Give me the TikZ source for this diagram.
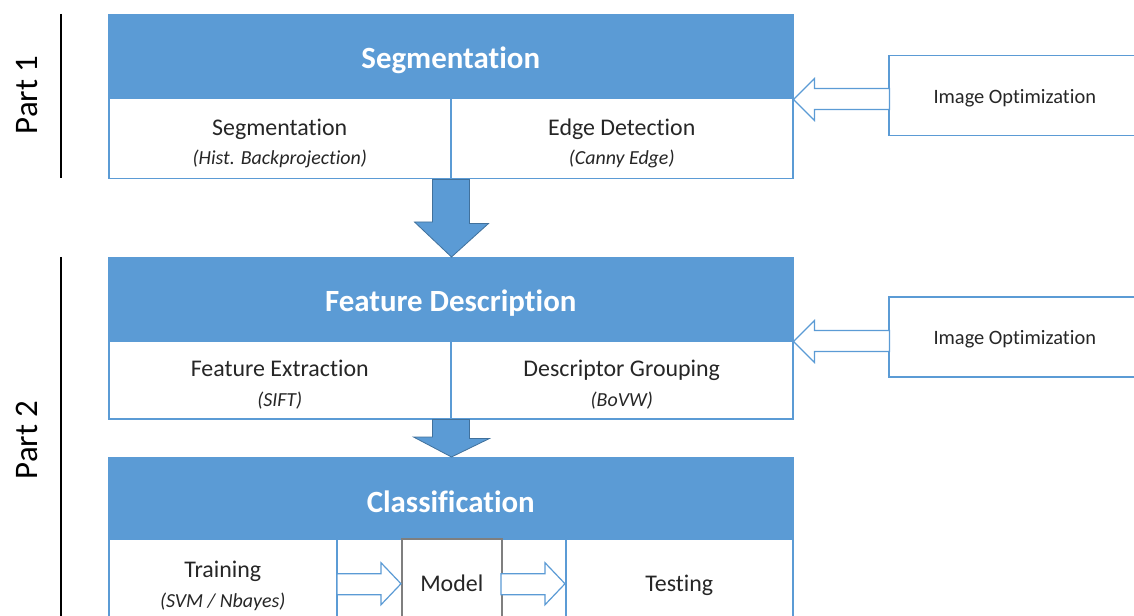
\documentclass[tikz,border=0pt]{standalone}
\usepackage{fontspec}
\setmainfont{Carlito}[Ligatures=NoCommon]
\usetikzlibrary{calc}

\definecolor{boxblue}{HTML}{5B9BD5}
\definecolor{arrowedge}{HTML}{41719C}
\definecolor{modelgray}{HTML}{7F7F7F}
\definecolor{inktext}{HTML}{262626}

\tikzset{
  head/.style={draw=boxblue, fill=boxblue, line width=1.5bp, text=white,
    font=\fontsize{31}{36}\selectfont\bfseries, minimum width=684bp,
    text height=29bp, inner sep=0pt, anchor=north west},
  cell/.style={draw=boxblue, line width=1.5bp, fill=white, text=inktext,
    align=center, font=\fontsize{24}{30}\selectfont, inner sep=0pt,
    anchor=north west},
  optbox/.style={draw=boxblue, line width=1.5bp, text=inktext,
    font=\fontsize{20.5}{24}\selectfont, minimum width=252bp,
    minimum height=80bp, text height=19.5bp, inner sep=0pt, anchor=north west},
  modelbox/.style={draw=modelgray, line width=1.5bp, fill=white, text=inktext,
    font=\fontsize{24}{30}\selectfont, minimum width=100bp,
    minimum height=90bp, inner sep=0pt, anchor=north west},
  parttext/.style={rotate=90, font=\fontsize{33}{40}\selectfont, text=black},
  downarrow/.style={fill=boxblue, draw=arrowedge, line width=0.8bp},
  hollowarrow/.style={fill=white, draw=boxblue, line width=1.2bp},
}
\newcommand{\subline}[1]{{\fontsize{20}{30}\selectfont\itshape #1}}
\newcommand{\topgap}[1]{\rule{0pt}{#1}}

\begin{document}
\begin{tikzpicture}[x=1bp, y=-1bp]
\useasboundingbox (0,0) rectangle (1134,616);
\clip (0,0) rectangle (1134,616);

% part markers
\node[parttext] (part1) at (27,95) {Part 1};
\node[parttext] (part2) at (27,440) {Part 2};
\coordinate (p1top) at (61,14);
\coordinate (p1bot) at (61,178);
\coordinate (p2top) at (61,257);
\coordinate (p2bot) at (61,630);
\draw[line width=1.2bp] (p1top) -- (p1bot);
\draw[line width=1.2bp] (p2top) -- (p2bot);

% segmentation block
\node[head, minimum height=84bp] (seghead) at (108,14) {Segmentation};
\node[cell, minimum width=342bp, minimum height=80bp] (segA) at (108,98)
  {\topgap{26bp}Segmentation\\\subline{(Hist. Backprojection)}};
\node[cell, minimum width=342bp, minimum height=80bp] (segB) at (450,98)
  {\topgap{26bp}Edge Detection\\\subline{(Canny Edge)}};

% feature description block
\node[head, minimum height=83bp] (fdhead) at (108,257) {Feature Description};
\node[cell, minimum width=342bp, minimum height=78bp] (fdA) at (108,340)
  {\topgap{26bp}Feature Extraction\\\subline{(SIFT)}};
\node[cell, minimum width=342bp, minimum height=78bp] (fdB) at (450,340)
  {\topgap{26bp}Descriptor Grouping\\\subline{(BoVW)}};

% classification block
\node[head, minimum height=81bp] (clhead) at (108,457) {Classification};
\node[cell, minimum width=228bp, minimum height=90bp] (clA) at (108,538)
  {\topgap{21bp}Training\\\subline{(SVM / Nbayes)}};
\node[cell, minimum width=229bp, minimum height=90bp] (clM) at (336,538) {};
\node[cell, minimum width=227bp, minimum height=90bp, text height=19.5bp]
  (clB) at (565,538) {Testing};
\node[modelbox] (model) at (401,538) {Model};

% image optimization inputs
\node[optbox] (opt1) at (888,55) {Image Optimization};
\node[optbox] (opt2) at (888,296) {Image Optimization};

% block arrows between stages
\draw[downarrow] ($(segA.south east)+(-19,0)$) -- ++(37,0) -- ++(0,44) -- ++(19,0)
  -- (segA.south east |- fdhead.north) -- ++(-37,-35) -- ++(18,0) -- cycle;
\draw[downarrow] ($(fdA.south east)+(-19,0)$) -- ++(37,0) -- ++(0,19) -- ++(20,0)
  -- (fdA.south east |- clhead.north) -- ++(-38,-20) -- ++(19,0) -- cycle;

% hollow arrows
\draw[hollowarrow] (seghead.south east) -- ++(21,-21) -- ++(0,10) -- ++(75,0)
  -- ++(0,21) -- ++(-75,0) -- ++(0,11) -- cycle;
\draw[hollowarrow] (fdhead.south east) -- ++(21,-21) -- ++(0,10) -- ++(75,0)
  -- ++(0,21) -- ++(-75,0) -- ++(0,11) -- cycle;
\draw[hollowarrow] (model.west) -- ++(-20,-21) -- ++(0,11) -- ++(-44,0)
  -- ++(0,21) -- ++(44,0) -- ++(0,10) -- cycle;
\draw[hollowarrow] (clB.west) -- ++(-20,-21) -- ++(0,11) -- ++(-44,0)
  -- ++(0,21) -- ++(44,0) -- ++(0,10) -- cycle;

\end{tikzpicture}
\end{document}
